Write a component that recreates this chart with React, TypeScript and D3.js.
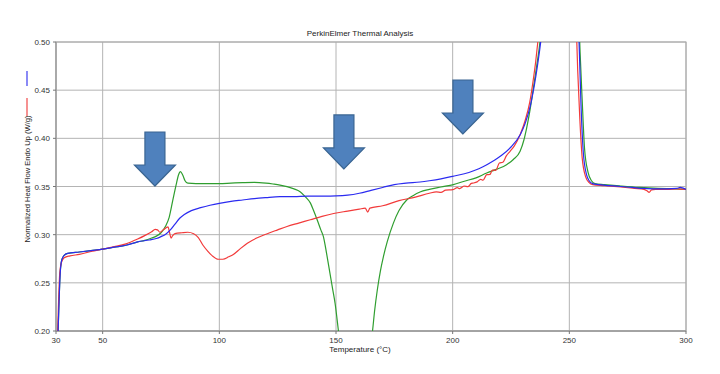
import React from "react";
import * as d3 from "d3";

const TITLE = "PerkinElmer Thermal Analysis";
const X_LABEL = "Temperature (°C)";
const Y_LABEL = "Normalized Heat Flow Endo Up (W/g)";
const X_TICKS = [30, 50, 100, 150, 200, 250, 300];
const Y_TICKS = [0.2, 0.25, 0.3, 0.35, 0.4, 0.45, 0.5];

// [temperature °C, W/g]
const blueSeries: [number, number][] = [
  [30.9, 0.2], [31.3, 0.23], [31.8, 0.26], [32.5, 0.274], [33.5, 0.2785], [35, 0.2805], [40, 0.282],
  [45, 0.2835], [50, 0.285], [55, 0.287], [60, 0.289], [65, 0.2925], [70, 0.2945], [73, 0.296],
  [75, 0.298], [77, 0.3005], [79, 0.305], [81, 0.311], [83, 0.317], [85, 0.321], [88, 0.325],
  [92, 0.328], [96, 0.3305], [100, 0.3325], [105, 0.3345], [110, 0.336], [115, 0.3375], [120, 0.3385],
  [126, 0.3394], [132, 0.3395], [138, 0.34], [145, 0.34], [150, 0.3402], [155, 0.341], [160, 0.343],
  [165, 0.346], [170, 0.349], [175, 0.352], [180, 0.3535], [186, 0.3547], [190, 0.356], [195, 0.358],
  [200, 0.3606], [205, 0.3632], [209, 0.3664], [213, 0.3705], [217, 0.376], [221, 0.3825], [225, 0.391],
  [229, 0.404], [231, 0.415], [233, 0.431], [235, 0.455], [236.5, 0.478], [238.2, 0.51], [240, 0.56],
  [246, 0.8], [251, 0.7], [253.3, 0.56], [254.3, 0.49], [255, 0.435], [256, 0.385], [257.4, 0.362],
  [258.5, 0.356], [260, 0.353], [262.5, 0.352], [267, 0.351], [272, 0.35], [277, 0.349], [282, 0.348],
  [287, 0.3475], [292, 0.3475], [296, 0.348], [297.5, 0.349], [298.5, 0.3485], [300, 0.347],
];

const redSeries: [number, number][] = [
  [30.7, 0.2], [31.1, 0.23], [31.6, 0.26], [32.3, 0.271], [33.5, 0.276], [36, 0.278], [40, 0.2795],
  [45, 0.2825], [50, 0.285], [55, 0.2875], [60, 0.2905], [65, 0.2955], [68, 0.299], [71, 0.303],
  [72.5, 0.3055], [73.5, 0.305], [74.5, 0.3025], [76, 0.305], [78, 0.308], [78.6, 0.303], [79.3, 0.2965],
  [80, 0.299], [81, 0.301], [84, 0.302], [86.5, 0.3025], [89, 0.301], [91, 0.297], [93, 0.289],
  [95, 0.283], [97, 0.278], [99.5, 0.2745], [101.5, 0.2745], [104, 0.277], [106, 0.2795], [109, 0.2855],
  [112, 0.291], [116, 0.2965], [120, 0.3005], [125, 0.305], [129, 0.3085], [134, 0.312], [139, 0.3155],
  [144, 0.319], [149, 0.322], [155, 0.3245], [160, 0.3265], [162.5, 0.3275], [163.6, 0.3235],
  [164.5, 0.3275], [170, 0.33], [177, 0.3353], [184, 0.339], [190, 0.343], [193, 0.3445], [195, 0.3438],
  [197, 0.3462], [200, 0.3467], [202, 0.3488], [203, 0.3478], [205, 0.3505], [206.5, 0.3498],
  [208, 0.3532], [209, 0.3536], [210.5, 0.3548], [212, 0.3575], [213, 0.3565], [214.6, 0.3623],
  [216, 0.3625], [217, 0.367], [218.5, 0.3668], [220, 0.3744], [221.5, 0.3752], [223, 0.3818],
  [224.6, 0.3865], [226.5, 0.3925], [228.9, 0.4038], [231, 0.418], [233, 0.437], [234.5, 0.46],
  [235.6, 0.48], [236.5, 0.5], [238, 0.54], [245, 0.8], [251, 0.7], [252.8, 0.53], [253.6, 0.47],
  [254.5, 0.42], [255.5, 0.38], [257, 0.36], [258.5, 0.354], [260, 0.352], [265, 0.351], [272, 0.3495],
  [278, 0.348], [282, 0.347], [283.3, 0.3455], [284.2, 0.344], [285.2, 0.3465], [287, 0.347],
  [292, 0.347], [296, 0.3475], [300, 0.347],
];

const greenSeries: [number, number][] = [
  [30.9, 0.2], [31.3, 0.23], [31.8, 0.26], [32.5, 0.274], [33.5, 0.2785], [35, 0.2805], [40, 0.282],
  [45, 0.2835], [50, 0.285], [55, 0.287], [60, 0.289], [65, 0.2925], [68, 0.294], [71, 0.2965],
  [73, 0.2985], [75, 0.302], [77, 0.309], [78.5, 0.318], [80, 0.335], [81.5, 0.352], [82.5, 0.362],
  [83.3, 0.3655], [84.3, 0.362], [85.3, 0.356], [86.5, 0.3535], [90, 0.353], [95, 0.353], [100, 0.353],
  [105, 0.3535], [110, 0.354], [115, 0.3543], [120, 0.3535], [123, 0.3526], [126, 0.3515],
  [129, 0.3498], [132, 0.3475], [134.6, 0.3446], [137, 0.339], [139, 0.333], [140.3, 0.3256],
  [142, 0.315], [143.5, 0.305], [144.6, 0.298], [146, 0.28], [147.4, 0.26], [148.6, 0.243],
  [149.6, 0.2288], [151, 0.201], [152, 0.18], [155, 0.12], [158, 0.09], [162, 0.12], [164.5, 0.18],
  [165.7, 0.201], [166.5, 0.22], [167.7, 0.2426], [169, 0.262], [170.3, 0.277], [172, 0.293],
  [174.6, 0.312], [177, 0.325], [180.3, 0.336], [183, 0.3405], [186, 0.3443], [190, 0.347],
  [195, 0.3495], [200.3, 0.352], [205, 0.3555], [210, 0.359], [214.6, 0.364], [219, 0.368],
  [223.1, 0.3726], [226, 0.378], [228.9, 0.3866], [230.5, 0.398], [231.7, 0.4107], [233.2, 0.43],
  [234.6, 0.4523], [236, 0.475], [237.4, 0.5], [239, 0.55], [246, 0.8], [252, 0.7], [254, 0.53],
  [254.6, 0.49], [255.5, 0.44], [256.5, 0.39], [258, 0.365], [259.5, 0.356], [261, 0.353],
  [265, 0.352], [272, 0.3505], [280, 0.349], [288, 0.348], [295, 0.3475], [300, 0.347],
];

// annotation arrows: tip position in data coordinates
const arrowTipT = [72.4, 153.4, 204.4];
const arrowTipV = [0.3505, 0.3682, 0.4045];

export default function App() {
  const W = 720;
  const H = 374;
  const left = 56, right = 686, top = 42, bottom = 331;
  const x = d3.scaleLinear().domain([30, 300]).range([left, right]);
  const y = d3.scaleLinear().domain([0.2, 0.5]).range([bottom, top]);
  const line = d3
    .line<[number, number]>()
    .x((d) => x(d[0]))
    .y((d) => y(d[1]))
    .curve(d3.curveMonotoneX);

  const font = "'Liberation Sans', Arial, sans-serif";
  const series = [
    { data: greenSeries, color: "#2f9e2f" },
    { data: redSeries, color: "#f23a3a" },
    { data: blueSeries, color: "#2b2bf0" },
  ];

  const arrowPath = (tx: number, ty: number) => {
    const sw = 10, hw = 20.5, hh = 21, sh = 33;
    return `M${tx},${ty} L${tx - hw},${ty - hh} L${tx - sw},${ty - hh} L${tx - sw},${ty - hh - sh} L${tx + sw},${ty - hh - sh} L${tx + sw},${ty - hh} L${tx + hw},${ty - hh} Z`;
  };

  return (
    <svg
      width={W}
      height={H}
      style={{ position: "absolute", left: 0, top: 0, background: "#fff" }}
      fontFamily={font}
    >
      <defs>
        <clipPath id="plotclip">
          <rect x={left} y={top} width={right - left} height={bottom - top} />
        </clipPath>
      </defs>
      <rect x={0} y={0} width={W} height={H} fill="#fff" />
      <text x={360} y={36} textAnchor="middle" fontSize={8} fill="#222">
        {TITLE}
      </text>
      {/* grid */}
      {X_TICKS.map((t) => (
        <line key={"gx" + t} x1={x(t)} x2={x(t)} y1={top} y2={bottom} stroke="#b4b4b4" strokeWidth={1} />
      ))}
      {Y_TICKS.map((t) => (
        <line key={"gy" + t} x1={left} x2={right} y1={y(t)} y2={y(t)} stroke="#b4b4b4" strokeWidth={1} />
      ))}
      <rect x={left} y={top} width={right - left} height={bottom - top} fill="none" stroke="#a8a8a8" strokeWidth={1} />
      <line x1={left} x2={right} y1={bottom} y2={bottom} stroke="#9a9a9a" strokeWidth={1.6} />
      <line x1={left} x2={left} y1={top} y2={bottom} stroke="#9a9a9a" strokeWidth={1.2} />
      {/* ticks */}
      {X_TICKS.map((t) => (
        <g key={"tx" + t}>
          <line x1={x(t)} x2={x(t)} y1={bottom} y2={bottom + 3} stroke="#777" />
          <text x={x(t)} y={bottom + 12} textAnchor="middle" fontSize={8} fill="#333">
            {t}
          </text>
        </g>
      ))}
      {Y_TICKS.map((t) => (
        <g key={"ty" + t}>
          <line x1={left - 3} x2={left} y1={y(t)} y2={y(t)} stroke="#777" />
          <text x={left - 6} y={y(t) + 3} textAnchor="end" fontSize={8} fill="#333">
            {t.toFixed(2)}
          </text>
        </g>
      ))}
      <text x={360} y={352} textAnchor="middle" fontSize={8} fill="#222">
        {X_LABEL}
      </text>
      <text
        transform="translate(30,179) rotate(-90)"
        textAnchor="middle"
        fontSize={7.6}
        fill="#222"
      >
        {Y_LABEL}
      </text>
      <line x1={27} x2={27} y1={71} y2={86} stroke="#3b3bf0" strokeWidth={1.2} />
      <line x1={27} x2={27} y1={98} y2={116} stroke="#f04848" strokeWidth={1.2} />
      {/* curves */}
      <g clipPath="url(#plotclip)">
        {series.map((s, i) => (
          <path key={i} d={line(s.data) || ""} fill="none" stroke={s.color} strokeWidth={1.2} />
        ))}
      </g>
      {/* arrows */}
      {arrowTipT.map((t, i) => (
        <path
          key={"ar" + i}
          d={arrowPath(x(t), y(arrowTipV[i]))}
          fill="#4f81bd"
          stroke="#3a6592"
          strokeWidth={1.2}
          strokeLinejoin="miter"
        />
      ))}
    </svg>
  );
}
